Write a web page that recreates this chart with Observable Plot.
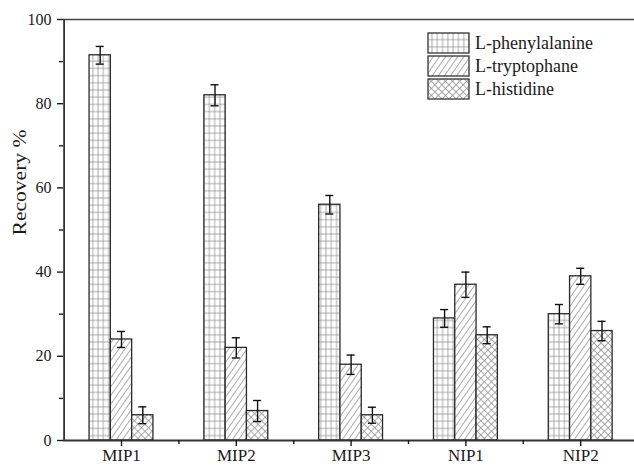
<!DOCTYPE html>
<html>
<head>
<meta charset="utf-8">
<script src="https://cdn.jsdelivr.net/npm/d3@7"></script>
<script src="https://cdn.jsdelivr.net/npm/@observablehq/plot@0.6"></script>
<style>
  html, body { margin: 0; padding: 0; background: #fff; }
  #wrap { position: relative; width: 634px; height: 467px; overflow: hidden; }
  #legend { position: absolute; left: 0; top: 0; pointer-events: none; }
</style>
</head>
<body>
<svg width="0" height="0" style="position:absolute">
  <defs>
    <pattern id="p0" patternUnits="userSpaceOnUse" width="5.3" height="7.2">
      <rect width="5.3" height="7.2" fill="#fff"/>
      <path d="M2.65,0V7.2M0,3.6H5.3" stroke="#909090" stroke-width="0.75"/>
    </pattern>
    <pattern id="p1" patternUnits="userSpaceOnUse" width="5" height="10" patternTransform="rotate(35)">
      <rect width="5" height="10" fill="#fff"/>
      <path d="M2.5,0V10" stroke="#909090" stroke-width="0.75"/>
    </pattern>
    <pattern id="p2" patternUnits="userSpaceOnUse" width="5" height="5" patternTransform="rotate(45)">
      <rect width="5" height="5" fill="#fff"/>
      <path d="M2.5,0V5M0,2.5H5" stroke="#909090" stroke-width="0.75"/>
    </pattern>
  </defs>
</svg>
<div id="wrap"></div>
<script>
const groups = ["MIP1", "MIP2", "MIP3", "NIP1", "NIP2"];
const series = ["L-phenylalanine", "L-tryptophane", "L-histidine"];
const phe    = [91.5, 82, 56, 29, 30];
const pheErr = [2.1, 2.5, 2.2, 2.1, 2.3];
const trp    = [24, 22, 18, 37, 39];
const trpErr = [1.9, 2.4, 2.3, 3.0, 1.9];
const his    = [6, 7, 6, 25, 26];
const hisErr = [2.0, 2.5, 1.9, 2.0, 2.3];
const yTicks = [0, 20, 40, 60, 80, 100];
const yMinor = [10, 30, 50, 70, 90];

const fills = ["url(#p0)", "url(#p1)", "url(#p2)"];
const vals = [phe, trp, his];
const errs = [pheErr, trpErr, hisErr];
const w = 0.1855;   // bar width in category units
const cap = 0.035;  // half cap width

const rows = [];
groups.forEach((g, i) => {
  series.forEach((s, k) => {
    rows.push({g: i, s: k, v: vals[k][i], e: errs[k][i],
      x1: i + (k - 1.5) * w, x2: i + (k - 0.5) * w, cx: i + (k - 1) * w});
  });
});

const barMarks = series.map((s, k) =>
  Plot.rect(rows.filter(d => d.s === k), {
    x1: "x1", x2: "x2", y1: 0, y2: "v",
    fill: fills[k], stroke: "#2a2a2a", strokeWidth: 1.3
  })
);

const font = "'Liberation Serif', 'Times New Roman', serif";
const chart = Plot.plot({
  width: 634, height: 467,
  marginLeft: 63, marginRight: 0, marginTop: 19, marginBottom: 27,
  style: {fontFamily: font, background: "transparent", color: "#1a1a1a"},
  x: {domain: [-0.5, 4.5], range: [63.6, 637.6], axis: null},
  y: {domain: [0, 100], range: [440, 19], axis: null},
  marks: [
    ...barMarks,
    Plot.ruleX(rows, {x: "cx", y1: d => d.v - d.e, y2: d => d.v + d.e, stroke: "#111", strokeWidth: 1.4}),
    Plot.ruleY(rows, {y: d => d.v + d.e, x1: d => d.cx - cap, x2: d => d.cx + cap, stroke: "#111", strokeWidth: 1.4}),
    Plot.ruleY(rows, {y: d => d.v - d.e, x1: d => d.cx - cap, x2: d => d.cx + cap, stroke: "#111", strokeWidth: 1.4}),
    Plot.ruleY([0], {stroke: "#333", strokeWidth: 1.8}),
    Plot.ruleY([100], {stroke: "#444", strokeWidth: 1.6}),
    Plot.ruleX([-0.5], {stroke: "#333", strokeWidth: 1.8}),
    Plot.axisY(yTicks, {anchor: "left", tickSize: 6, tickPadding: 6, fontSize: 16, label: null, strokeWidth: 1.4}),
    Plot.axisY(yMinor, {anchor: "left", tickSize: 4, tickFormat: () => "", label: null, strokeWidth: 1.4}),
    Plot.axisX([0, 1, 2, 3, 4], {anchor: "bottom", tickSize: 6, tickPadding: 2, fontSize: 17, tickFormat: i => groups[i], label: null, strokeWidth: 1.4}),
    Plot.axisX([0.5, 1.5, 2.5, 3.5], {anchor: "bottom", tickSize: 4, tickFormat: () => "", label: null, strokeWidth: 1.4}),
    Plot.text(["Recovery %"], {frameAnchor: "left", rotate: -90, dx: -43, dy: 5.5, fontSize: 18, fill: "#1a1a1a"})
  ]
});
document.getElementById("wrap").appendChild(chart);

d3.select(chart).selectAll("text")
  .filter(function() { return this.textContent === "Recovery %"; })
  .attr("textLength", 106).attr("lengthAdjust", "spacingAndGlyphs");

// Legend overlay
const leg = d3.select("#wrap").append("svg").attr("id", "legend")
  .attr("width", 634).attr("height", 467);
series.forEach((s, k) => {
  const y = 33 + k * 23;
  leg.append("rect").attr("x", 428).attr("y", y).attr("width", 41).attr("height", 20)
    .attr("fill", fills[k]).attr("stroke", "#333").attr("stroke-width", 1.3);
  leg.append("text").attr("x", 475).attr("y", y + 10).attr("dy", "0.35em")
    .attr("font-family", font)
    .attr("font-size", 18).attr("fill", "#1a1a1a").text(s);
});
</script>
</body>
</html>
